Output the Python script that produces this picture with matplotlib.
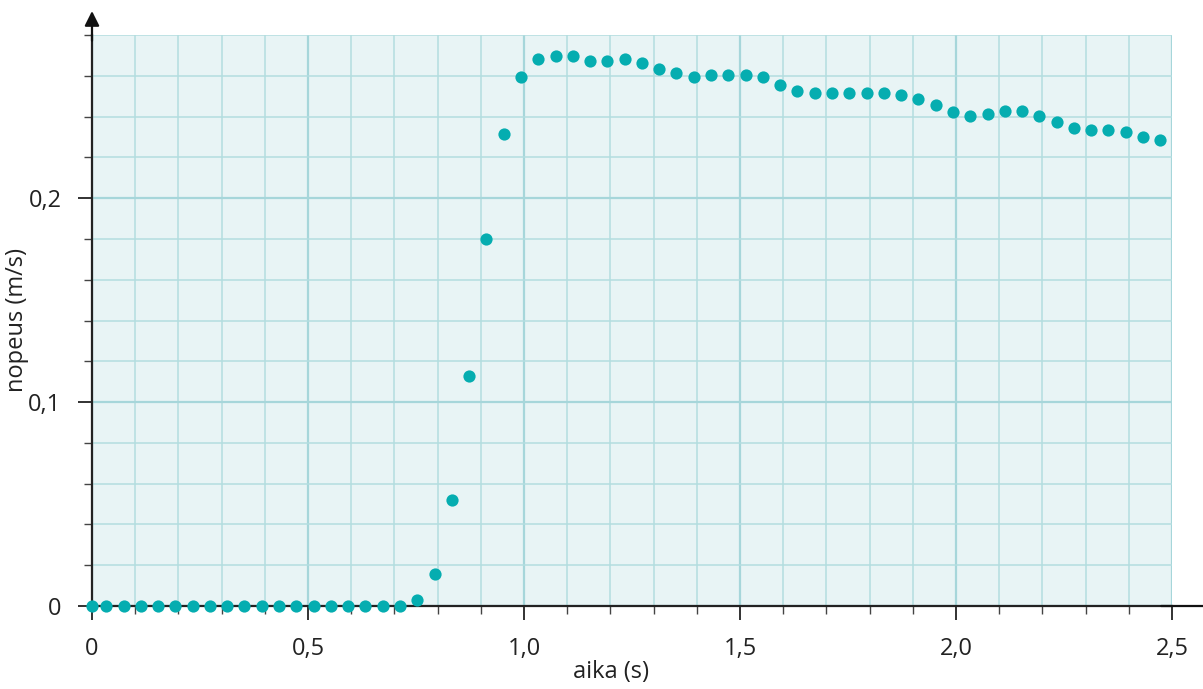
import matplotlib
matplotlib.use("Agg")
import matplotlib.pyplot as plt
from matplotlib.ticker import MultipleLocator, FixedLocator

# Measured speed of the cart over time
time_s = [0.000, 0.033, 0.073, 0.113, 0.153, 0.193, 0.233, 0.273, 0.313, 0.353,
          0.393, 0.433, 0.473, 0.513, 0.553, 0.593, 0.633, 0.673, 0.713, 0.753,
          0.793, 0.833, 0.873, 0.913, 0.953, 0.993, 1.033, 1.073, 1.113, 1.153,
          1.193, 1.233, 1.273, 1.313, 1.353, 1.393, 1.433, 1.473, 1.513, 1.553,
          1.593, 1.633, 1.673, 1.713, 1.753, 1.793, 1.833, 1.873, 1.913, 1.953,
          1.993, 2.033, 2.073, 2.113, 2.153, 2.193, 2.233, 2.273, 2.313, 2.353,
          2.393, 2.433, 2.473]
speed_ms = [0.0, 0.0, 0.0, 0.0, 0.0, 0.0, 0.0, 0.0, 0.0, 0.0,
            0.0, 0.0, 0.0, 0.0, 0.0, 0.0, 0.0, 0.0, 0.0, 0.003,
            0.0156, 0.052, 0.113, 0.180, 0.2315, 0.2594, 0.2684, 0.2695, 0.2695, 0.2674,
            0.2674, 0.2684, 0.2664, 0.2635, 0.2615, 0.2594, 0.2605, 0.2605, 0.2605, 0.2594,
            0.2555, 0.2524, 0.2516, 0.2516, 0.2516, 0.2516, 0.2516, 0.2504, 0.2484, 0.2457,
            0.2424, 0.2404, 0.2414, 0.2425, 0.2425, 0.2404, 0.2375, 0.2344, 0.2334, 0.2334,
            0.2322, 0.2301, 0.2285]

x_ticks = [0, 0.5, 1.0, 1.5, 2.0, 2.5]
x_tick_labels = ["0", "0,5", "1,0", "1,5", "2,0", "2,5"]
y_ticks = [0, 0.1, 0.2]
y_tick_labels = ["0", "0,1", "0,2"]

plt.rcParams['font.family'] = ['Open Sans', 'DejaVu Sans']

fig = plt.figure(figsize=(12.03, 6.89), dpi=100)
ax = fig.add_axes([92 / 1203, 83 / 689, 1080 / 1203, 571 / 689])

ax.set_xlim(0, 2.5)
ax.set_ylim(0, 0.28)
ax.set_facecolor('#e8f4f5')

grid_col = '#b3dde0'
ax.xaxis.set_major_locator(FixedLocator(x_ticks))
ax.xaxis.set_minor_locator(MultipleLocator(0.1))
ax.yaxis.set_major_locator(FixedLocator(y_ticks))
ax.yaxis.set_minor_locator(MultipleLocator(0.02))
ax.set_xticklabels(x_tick_labels)
ax.set_yticklabels(y_tick_labels)

ax.grid(which='minor', color=grid_col, linewidth=1.1, zorder=0)
ax.grid(which='major', color='#a6d6da', linewidth=1.6, zorder=0)
ax.set_axisbelow(True)

for side in ('top', 'right'):
    ax.spines[side].set_visible(False)
for side in ('left', 'bottom'):
    ax.spines[side].set_color('#222222')
    ax.spines[side].set_linewidth(1.6)

ax.tick_params(which='major', length=10, width=1.3, color='#222222',
               labelsize=17, pad=12, labelcolor='#222222')
ax.tick_params(which='minor', length=6, width=1.0, color='#444444')

ax.set_xlabel('aika (s)', fontsize=17, color='#222222')
ax.set_ylabel('nopeus (m/s)', fontsize=17, color='#222222')
ax.xaxis.set_label_coords(0.481, -0.095)
ax.yaxis.set_label_coords(-0.058, 0.5)

# axis arrows
ax.annotate('', xy=(1.048, 0), xycoords='axes fraction', xytext=(0.99, 0),
            arrowprops=dict(arrowstyle='-|>', color='#111111', lw=1.6,
                            mutation_scale=22, shrinkA=0, shrinkB=0),
            annotation_clip=False)
ax.annotate('', xy=(0, 1.042), xycoords='axes fraction', xytext=(0, 0.99),
            arrowprops=dict(arrowstyle='-|>', color='#111111', lw=1.6,
                            mutation_scale=22, shrinkA=0, shrinkB=0),
            annotation_clip=False)

ax.plot(time_s, speed_ms, linestyle='none', marker='o', markersize=8.8,
        color='#05adb0', markeredgewidth=0, clip_on=False, zorder=5)

fig.savefig('out.png', dpi=100, facecolor='white')
